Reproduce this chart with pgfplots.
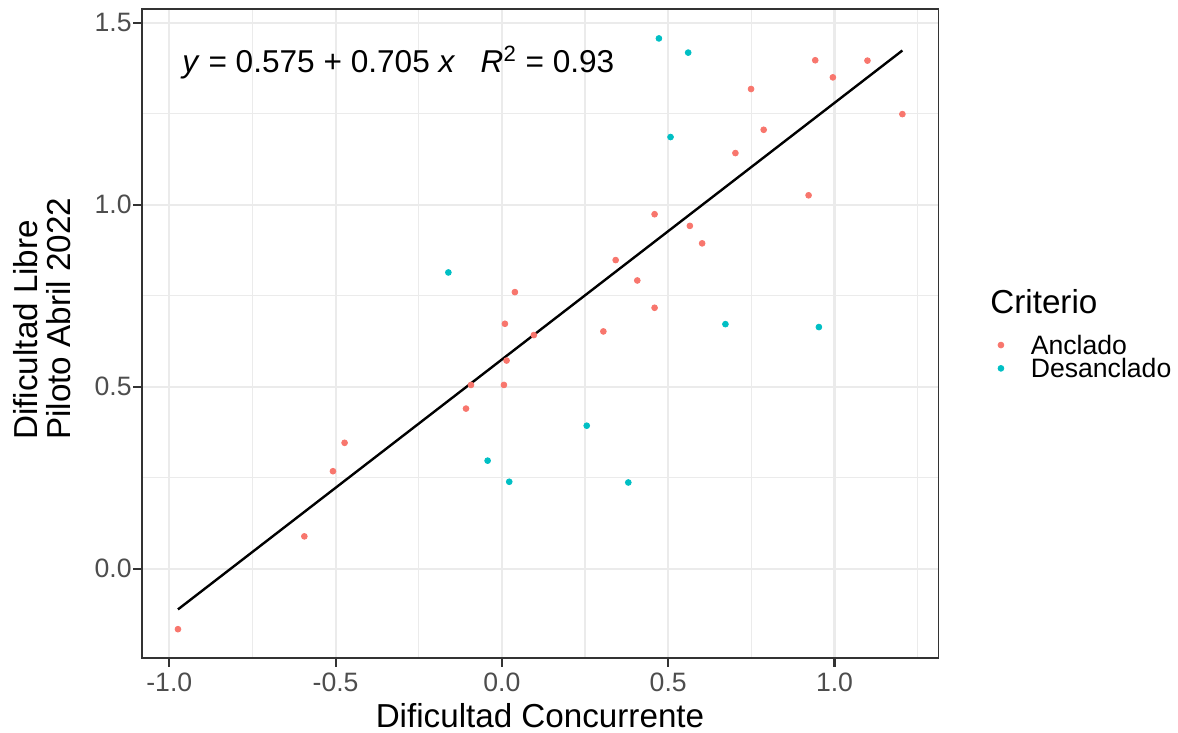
\documentclass[border=0pt]{standalone}
\usepackage{pgfplots}
\pgfplotsset{compat=1.18}
\usepackage{fontspec}
\setmainfont{Liberation Sans}
\definecolor{anclado}{HTML}{F8766D}
\definecolor{desanclado}{HTML}{00BFC4}
\definecolor{gridgrey}{HTML}{EBEBEB}
\definecolor{grey20}{HTML}{333333}
\definecolor{grey30}{HTML}{4D4D4D}

\begin{document}
\begin{tikzpicture}
\begin{axis}[
  at={(70.85pt,37.35pt)}, anchor=south west,
  scale only axis, width=398.3pt, height=324.5pt,
  xmin=-1.083, xmax=1.312, ymin=-0.246, ymax=1.537,
  xtick={-1,-0.5,0,0.5,1}, xticklabels={-1.0,-0.5,0.0,0.5,1.0},
  ytick={0,0.5,1,1.5}, yticklabels={0.0,0.5,1.0,1.5},
  minor xtick={-0.75,-0.25,0.25,0.75,1.25},
  minor ytick={0.25,0.75,1.25},
  grid=both,
  major grid style={gridgrey, line width=1.07pt},
  minor grid style={gridgrey, line width=0.6pt},
  axis line style={grey20, line width=0.8pt},
  tick align=outside, tick pos=left,
  major tick length=4.15pt, minor tick length=0pt,
  major tick style={grey20, line width=1.07pt},
  ticklabel style={font=\fontsize{13.3}{16}\selectfont, text=grey30, inner sep=0pt},
  xticklabel style={anchor=north, yshift=-3.2pt},
  yticklabel style={anchor=east, xshift=-0.7pt},
  xlabel={Dificultad Concurrente},
  xlabel style={at={(axis description cs:0.5,-0.1059)}, anchor=base, inner sep=0pt,
    font=\fontsize{16.6}{19}\selectfont},
  ylabel={Dificultad Libre\\Piloto Abril 2022},
  ylabel style={at={(axis description cs:-0.1255,0.3364)}, anchor=west, align=left,
    inner sep=0pt, font=\fontsize{16.6}{16.5}\selectfont},
  legend style={at={(axis description cs:1.0750,0.5006)}, anchor=north west,
    draw=none, fill=none, inner sep=0pt, outer sep=0pt, row sep=0pt, column sep=13.5pt,
    font=\fontsize{13.3}{16}\selectfont,
    nodes={inner sep=0pt, text height=10.585pt, text depth=1.065pt}},
  legend cell align=left,
  legend image code/.code={\draw[#1] plot coordinates {(0pt,0pt)};},
]
\addplot[only marks, mark=*, mark size=1.45pt, color=anclado] coordinates {
  (0.039,0.760) (0.009,0.673) (0.096,0.642) (0.942,1.397) (1.099,1.396)
  (0.995,1.350) (0.749,1.318) (1.204,1.249) (0.787,1.206) (0.702,1.142)
  (0.922,1.026) (0.459,0.974) (0.565,0.942) (0.602,0.894) (0.342,0.848)
  (0.407,0.792) (0.459,0.717) (0.305,0.652) (0.014,0.572) (-0.093,0.505)
  (0.006,0.505) (-0.108,0.440) (-0.473,0.346) (-0.508,0.268) (-0.594,0.089)
  (-0.974,-0.166)
};
\addlegendentry{Anclado}
\addplot[only marks, mark=*, mark size=1.45pt, color=desanclado] coordinates {
  (-0.161,0.814) (0.472,1.457) (0.560,1.418) (0.507,1.186) (0.672,0.672)
  (0.953,0.664) (-0.043,0.297) (0.022,0.239) (0.255,0.393) (0.380,0.237)
};
\addlegendentry{Desanclado}
\addplot[black, line width=1.2pt, forget plot] coordinates {
  (-0.974,-0.1117) (1.204,1.4238)
};
\node[anchor=base west, inner sep=0pt, font=\fontsize{15.8}{18}\selectfont]
  at (axis cs:-0.962,1.364)
  {\textit{y} = 0.575 + 0.705 \textit{x}\hspace{0.8em}\textit{R}\textsuperscript{2} = 0.93};
\end{axis}
\node[anchor=base west, inner sep=0pt, font=\fontsize{16.6}{19}\selectfont]
  at (495pt,209.85pt) {Criterio};
\pgfresetboundingbox
\useasboundingbox (0,0) rectangle (589pt,366.5pt);
\end{tikzpicture}
\end{document}
